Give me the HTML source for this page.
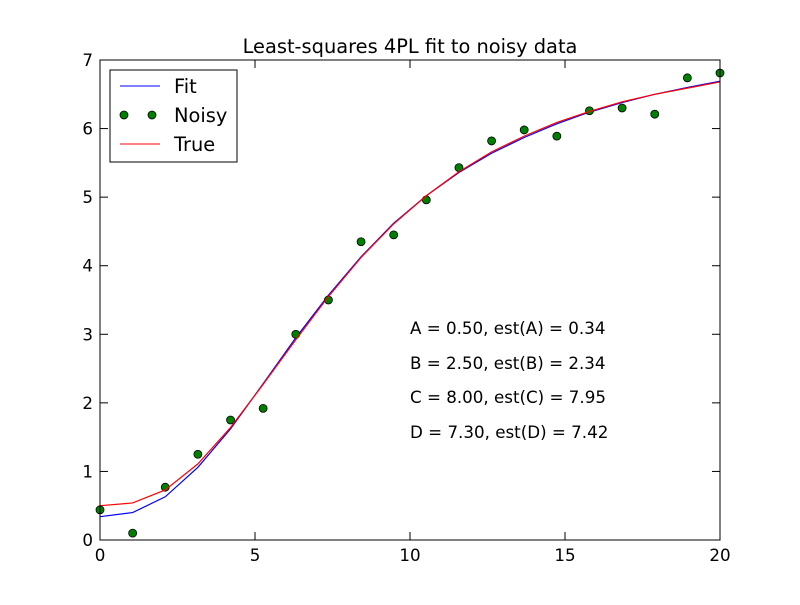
<!DOCTYPE html>
<html><head><meta charset="utf-8"><style>
body{margin:0;background:#fff;}
svg text{font-family:"DejaVu Sans","Liberation Sans",sans-serif;}
</style></head><body>
<svg id="chart" width="800" height="600" xmlns="http://www.w3.org/2000/svg">
<rect width="800" height="600" fill="#fff"/>
<text x="410" y="53" font-size="19.4" text-anchor="middle">Least-squares 4PL fit to noisy data</text>
<g id="ticks"></g>
<g id="plot"></g>
<rect x="100" y="60" width="620" height="480" fill="none" stroke="#000" stroke-width="1"/>
<g font-size="16.7">
<text x="410" y="334">A = 0.50, est(A) = 0.34</text>
<text x="410" y="369">B = 2.50, est(B) = 2.34</text>
<text x="410" y="403">C = 8.00, est(C) = 7.95</text>
<text x="410" y="438">D = 7.30, est(D) = 7.42</text>
</g>
<g>
<rect x="110" y="70" width="127" height="92" fill="#fff" stroke="#000"/>
<line x1="120" y1="86" x2="160" y2="86" stroke="#0000ff"/>
<text x="174" y="93" font-size="19.4">Fit</text>
<circle cx="124" cy="115" r="4" fill="#008000" stroke="#000" stroke-width="0.8"/>
<circle cx="152" cy="115" r="4" fill="#008000" stroke="#000" stroke-width="0.8"/>
<text x="174" y="122" font-size="19.4">Noisy</text>
<line x1="120" y1="144" x2="160" y2="144" stroke="#ff0000"/>
<text x="174" y="151" font-size="19.4">True</text>
</g>
</svg>
<script>
const xValues=[0,1.053,2.105,3.158,4.211,5.263,6.316,7.368,8.421,9.474,10.526,11.579,12.632,13.684,14.737,15.789,16.842,17.895,18.947,20];
const trueValues=[0.50,0.54,0.73,1.11,1.64,2.27,2.92,3.55,4.12,4.61,5.02,5.37,5.66,5.89,6.09,6.25,6.39,6.50,6.59,6.68];
const fitValues=[0.34,0.40,0.63,1.06,1.62,2.28,2.95,3.57,4.13,4.62,5.02,5.36,5.64,5.87,6.07,6.24,6.38,6.50,6.60,6.69];
const noisyValues=[0.44,0.10,0.77,1.25,1.75,1.92,3.00,3.50,4.35,4.45,4.96,5.43,5.82,5.98,5.89,6.26,6.30,6.21,6.74,6.81];
const xTicks=[0,5,10,15,20];
const yTicks=[0,1,2,3,4,5,6,7];
const NS="http://www.w3.org/2000/svg";
const X=v=>100+v/20*620, Y=v=>540-v/7*480;
function mk(t,a,p){const e=document.createElementNS(NS,t);for(const k in a)e.setAttribute(k,a[k]);p.appendChild(e);return e;}
const tk=document.getElementById('ticks'), pl=document.getElementById('plot');
xTicks.forEach(v=>{
 const x=X(v);
 const l=mk('line',{x1:x,y1:540,x2:x,y2:532,stroke:'#000'},tk);
 
 
 const l2=mk('line',{x1:x,y1:60,x2:x,y2:68,stroke:'#000'},tk);
 
 
 const t=mk('text',{x:x,y:561,'font-size':16.7,'text-anchor':'middle'},tk);t.textContent=v;
 
 
});
yTicks.forEach(v=>{
 const y=Y(v);
 const l=mk('line',{x1:100,y1:y,x2:108,y2:y,stroke:'#000'},tk);
 
 
 const l2=mk('line',{x1:712,y1:y,x2:720,y2:y,stroke:'#000'},tk);
 
 
 const t=mk('text',{x:93,y:y+6,'font-size':16.7,'text-anchor':'end'},tk);t.textContent=v;
 
 
});
function line(vals,color,name){
 const p=mk('polyline',{points:vals.map((v,i)=>X(xValues[i])+','+Y(v)).join(' '),fill:'none',stroke:color,'stroke-width':1.2},pl);
 
 
}
line(fitValues,'#0000ff','fit-line');
noisyValues.forEach((v,i)=>{
 const c=mk('circle',{cx:X(xValues[i]),cy:Y(v),r:4,fill:'#008000',stroke:'#000','stroke-width':0.8},pl);
 
 
});
line(trueValues,'#ff0000','true-line');
</script>
</body></html>
